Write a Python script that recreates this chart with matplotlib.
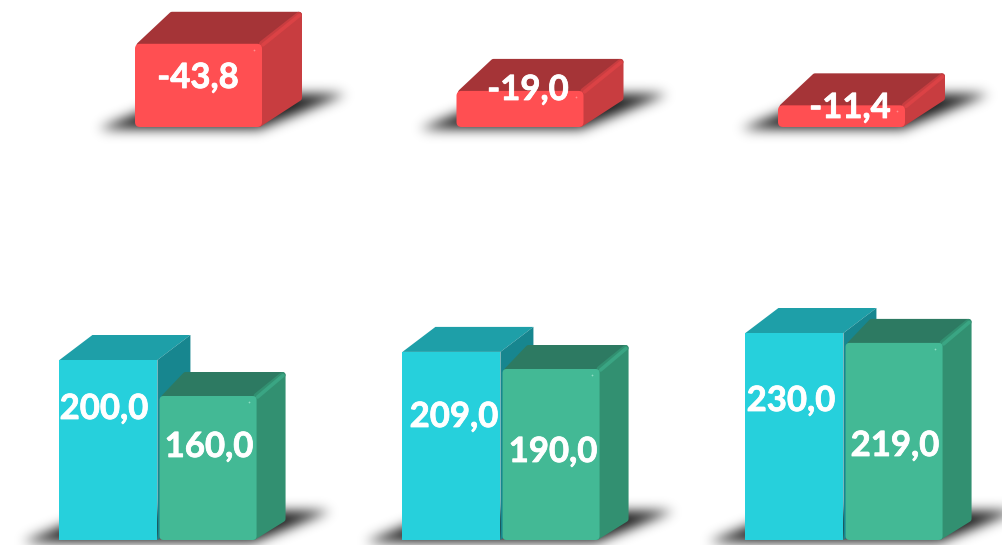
import numpy as np
import matplotlib
matplotlib.use("Agg")
import matplotlib.pyplot as plt
import matplotlib.patheffects as pe
from matplotlib.patches import Polygon, FancyBboxPatch

periods = ["A", "B", "C"]
first_series = [200.0, 209.0, 230.0]
second_series = [160.0, 190.0, 219.0]
difference = [-43.8, -19.0, -11.4]

W, H = 1002, 545
LOW_SX, LOW_SY = 343.0, 0.9      # pixels per data unit
LOW_X0, LOW_BASE = 158.5, 540.0
UP_SX, UP_SY = 321.5, -1.9
UP_X0, UP_BASE = 198.5, 127.0

BLUE = dict(front="#26D0DC", top="#1E9FA8", side="#17868F", bevel=None, radius=0, dot=None)
GREEN = dict(front="#43B995", top="#2D7A62", side="#329071", bevel="#3AA583", radius=4, dot="#8FDCC4")
RED = dict(front="#FF4F52", top="#A53437", side="#C83D40", bevel="#DB4245", radius=5, dot="#FF8F90")

fig = plt.figure(figsize=(W / 100, H / 100), dpi=100, facecolor="white")


def make_axes(x0, base, sx, sy, z):
    ax = fig.add_axes([0, 0, 1, 1], zorder=z)
    ax.set_xlim(-x0 / sx, (W - x0) / sx)
    ax.set_ylim((base - H) / abs(sy) * np.sign(sy), base / abs(sy) * np.sign(sy))
    ax.patch.set_visible(False)
    ax.axis("off")
    return ax


bg = fig.add_axes([0, 0, 1, 1], zorder=0)
low = make_axes(LOW_X0, LOW_BASE, LOW_SX, LOW_SY, 2)
up = make_axes(UP_X0, UP_BASE, UP_SX, UP_SY, 1)


def box(ax, rect, style, dx_px, dy_px, sx, sy):
    x0, w = rect.get_x(), rect.get_width()
    yb, yt = rect.get_y(), rect.get_y() + rect.get_height()
    xr = x0 + w
    z = rect.get_zorder()
    rnd = style["radius"] > 0
    # rounded back corners: pull the polygon in and stroke it with round joins
    i = 3.0 if rnd else 0.0
    dx, dy = (dx_px - i) / sx, (dy_px - i) / sy
    ix, iy = i / sx, i / sy
    lw = 2 * i * 0.72
    kw = dict(joinstyle="round", lw=lw, zorder=z)
    ax.add_patch(Polygon([(x0 + 1.5 * ix, yt - iy * 0.5), (x0 + dx, yt + dy), (xr + dx, yt + dy), (xr, yt)],
                         fc=style["top"], ec=style["top"], **kw))
    ax.add_patch(Polygon([(xr, yt), (xr + dx, yt + dy), (xr + dx, yb + dy), (xr - ix, yb + iy)],
                         fc=style["side"], ec=style["side"], **kw))
    if rnd:
        ox, oy = 1.0 / sx, -1.0 / sy
        ax.plot([xr + ox, xr + dx + ox * 0.5], [yt + oy, yt + dy + oy * 0.5], color=style["bevel"],
                lw=2.6, solid_capstyle="round", zorder=z)
        rect.set_visible(False)
        r = style["radius"]
        ax.add_patch(FancyBboxPatch((x0, min(yb, yt)), w, abs(yt - yb),
                                    boxstyle=f"round,pad=0,rounding_size={r / sx}",
                                    mutation_aspect=(sx / abs(sy)),
                                    fc=style["front"], ec="none", zorder=z))
        ax.plot([xr - 8 / sx], [yt - 6 / sy], ".", ms=2.5, mfc=style["dot"], mec="none", zorder=z)


def group_bars(ax, vals, pos, width, style, sx, sy, dx, dy, z):
    bars = ax.bar(pos, vals, width=width, color=style["front"], zorder=z, lw=0)
    for r in bars:
        box(ax, r, style, dx, dy, sx, sy)
    return bars


x = np.arange(len(periods))
b1 = group_bars(low, first_series, x - 0.146, 98 / LOW_SX, BLUE, LOW_SX, LOW_SY, 33, 25, 3)
b2 = group_bars(low, second_series, x + 0.1445, 97 / LOW_SX, GREEN, LOW_SX, LOW_SY, 29, 24, 4)
b3 = group_bars(up, difference, x, 127 / UP_SX, RED, UP_SX, UP_SY, 40, 32, 3)


def gaussian(a, s):
    n = int(3 * s)
    k = np.exp(-0.5 * (np.arange(-n, n + 1) / s) ** 2)
    k /= k.sum()
    a = np.apply_along_axis(lambda m: np.convolve(m, k, mode="same"), 0, a)
    return np.apply_along_axis(lambda m: np.convolve(m, k, mode="same"), 1, a)


# soft ground shadows, placed from the bars' pixel extents
alpha = np.zeros((H + 60, W + 60))
yy, xx = np.mgrid[0:H + 60, 0:W + 60]
yy = yy - 30.0
xx = xx - 30.0


def add_shadow(x_left, x_right, base, depth, reach):
    t = (base - yy) / depth
    m = (t >= 0) & (t <= 1) & (xx >= x_left + t * reach) & (xx <= x_right + t * reach)
    alpha[m] = 1


for a, b in [(b1[i], b2[i]) for i in x]:
    tf = low.transData.transform
    xl = tf((a.get_x(), 0))[0]
    xr = tf((b.get_x() + b.get_width(), 0))[0]
    add_shadow(xl - 36, xr - 2, LOW_BASE + 1, 30, 74)
for r in b3:
    tf = up.transData.transform
    xl = tf((r.get_x(), 0))[0]
    xr = tf((r.get_x() + r.get_width(), 0))[0]
    add_shadow(xl - 36, xr - 2, UP_BASE + 1, 34, 84)

alpha = gaussian(alpha, 6.0)[30:H + 30, 30:W + 30]
rgba = np.zeros((H, W, 4))
rgba[..., 3] = np.clip(alpha * 0.9, 0, 1)
bg.imshow(rgba, extent=(0, W, H, 0), interpolation="bilinear", aspect="auto")
bg.set_xlim(0, W)
bg.set_ylim(H, 0)
bg.axis("off")

# labels
label_font = dict(family="Lato", weight="bold", color="white", fontsize=25,
                  ha="center", va="center", zorder=10)
low_xy = [(104, 409), (454, 417), (791, 401)]
green_xy = [(209, 447), (553, 452), (895, 446)]
up_xy = [(198, 78), (528, 90), (850, 108)]


def fmt(v):
    return f"{v:.1f}".replace(".", ",")


top = fig.add_axes([0, 0, 1, 1], zorder=5)
top.set_xlim(0, W)
top.set_ylim(H, 0)
top.patch.set_visible(False)
top.axis("off")
for vals, xy in [(first_series, low_xy), (second_series, green_xy), (difference, up_xy)]:
    for v, (px, py) in zip(vals, xy):
        t = top.text(px, py, fmt(v), **label_font)
        t.set_path_effects([pe.withStroke(linewidth=0.6, foreground="white")])

fig.savefig("out.png", dpi=100, facecolor="white")
